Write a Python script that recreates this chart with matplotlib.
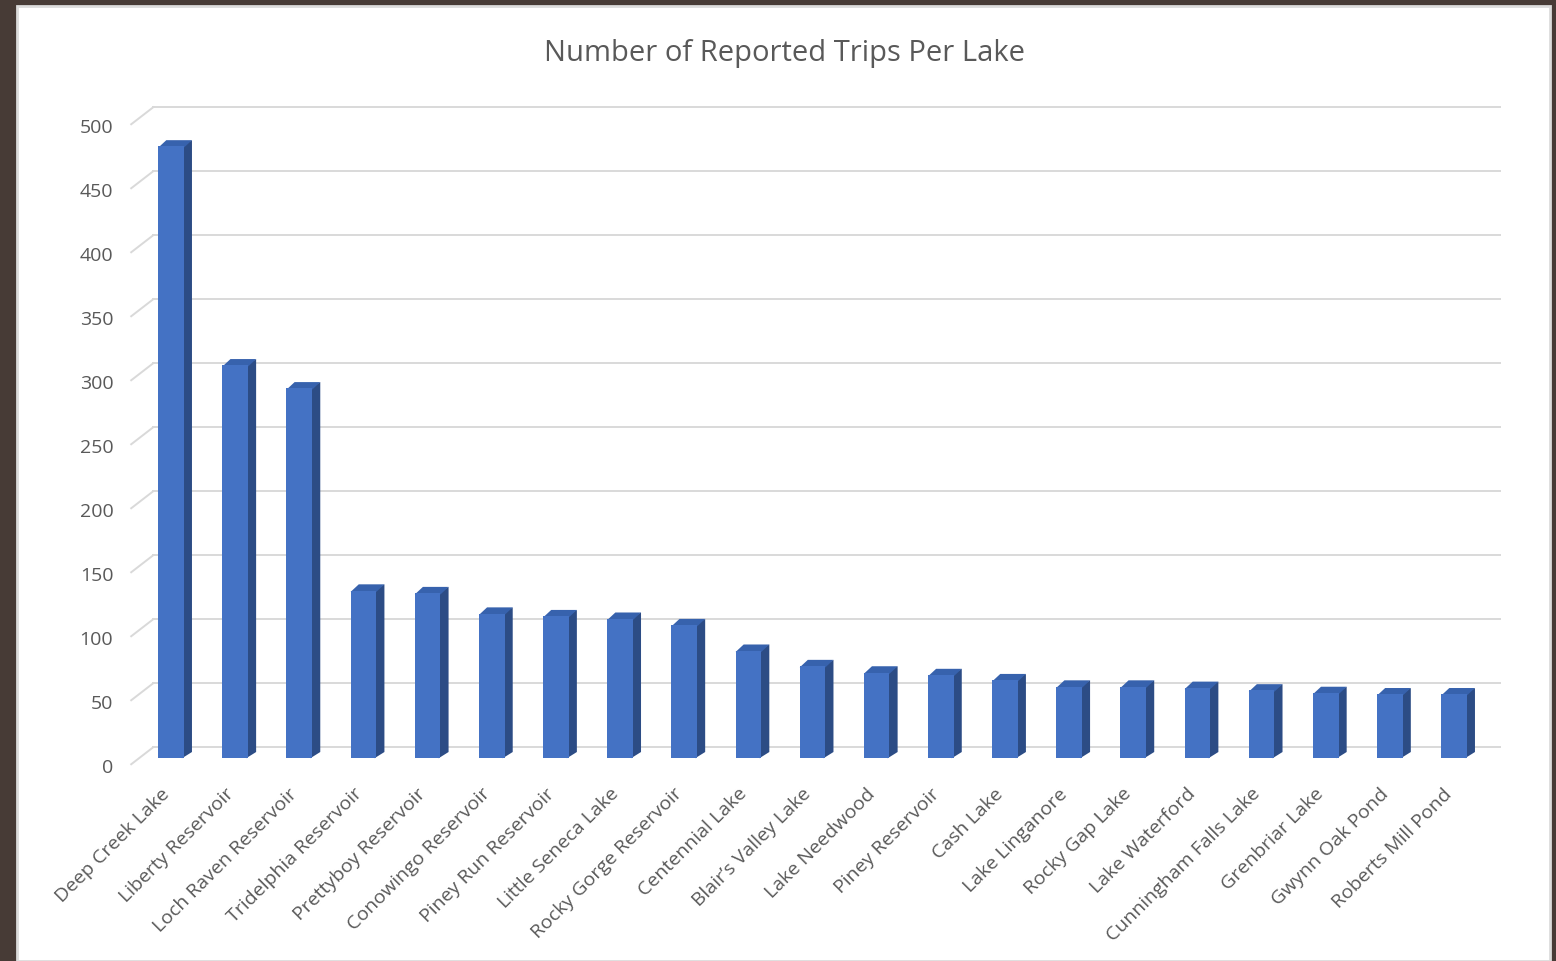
import numpy as np
import matplotlib.pyplot as plt
from matplotlib.patches import Polygon, Rectangle

lakes = [
    "Deep Creek Lake", "Liberty Reservoir", "Loch Raven Reservoir",
    "Tridelphia Reservoir", "Prettyboy Reservoir", "Conowingo Reservoir",
    "Piney Run Reservoir", "Little Seneca Lake", "Rocky Gorge Reservoir",
    "Centennial Lake", "Blair\u2019s Valley Lake", "Lake Needwood",
    "Piney Reservoir", "Cash Lake", "Lake Linganore", "Rocky Gap Lake",
    "Lake Waterford", "Cunningham Falls Lake", "Grenbriar Lake",
    "Gwynn Oak Pond", "Roberts Mill Pond",
]
trips = [478, 307, 289, 131, 129, 113, 111, 109, 104, 84, 72,
         67, 65, 61, 56, 56, 55, 53, 51, 50, 50]
y_ticks = list(range(0, 501, 50))

title = "Number of Reported Trips Per Lake"

W, H = 1556, 962
FRONT = "#4472c4"
SIDE = "#2c4c85"
TOP = "#3762ad"
GRID = "#d9d9d9"
TEXT = "#595959"
plt.rcParams["font.family"] = ["Open Sans", "DejaVu Sans"]

# pixel scale of the plot (px per category, px per trip)
px_cat, px_val = 64.15, 1.28
# oblique depth of the floor, in data units
depth = np.array([22 / px_cat, 17 / px_val])
front_edge = -0.35 * depth
back_wall = 0.65 * depth
bar_depth = 0.37 * depth
bar_w = 0.4

fig = plt.figure(figsize=(W / 100, H / 100), dpi=100, facecolor="#473b36")
fig.add_artist(Rectangle((17 / W, 0), 1533 / W, (H - 7) / H,
                         transform=fig.transFigure, facecolor="white",
                         edgecolor="#dcdcdc", lw=2, zorder=-1))

ax = fig.add_axes([100 / W, 1 - 775 / H, 1420 / W, 680 / H])
ax.set_xlim((100 - 171) / px_cat, (1520 - 171) / px_cat)
ax.set_ylim((759.3 - 775) / px_val, (759.3 - 95) / px_val)
ax.axis("off")

n = len(trips)
x0, x1 = -0.5, n - 0.5
for v in y_ticks:
    ax.plot([x0 + back_wall[0], x1 + back_wall[0]], [v + back_wall[1]] * 2,
            color=GRID, lw=1.4, zorder=1)
    ax.plot([x0 + front_edge[0], x0 + back_wall[0]],
            [v + front_edge[1], v + back_wall[1]], color=GRID, lw=1.4, zorder=1)
    ax.text(-0.9, v + front_edge[1] - 2.3, str(v), ha="right", va="center",
            fontsize=14, color=TEXT)

xs = np.arange(n)
ax.bar(xs, trips, width=bar_w, color=FRONT, linewidth=0, zorder=3)
dx, dy = bar_depth
ov = 0.03  # tuck the side/top faces under the front face
for i, v in zip(xs, trips):
    r, l = i + bar_w / 2, i - bar_w / 2
    ax.add_patch(Polygon([(r - ov, 0), (r + dx, dy), (r + dx, v + dy), (r - ov, v)],
                         closed=True, facecolor=SIDE, edgecolor="none", zorder=2))
    ax.add_patch(Polygon([(l, v - 1), (r, v - 1), (r + dx, v + dy), (l + dx, v + dy)],
                         closed=True, facecolor=TOP, edgecolor="none", zorder=2))

for i, name in enumerate(lakes):
    ax.text(i - 0.07, -25, name, rotation=45, rotation_mode="anchor",
            ha="right", va="center", fontsize=14, color=TEXT)

fig.text(784 / W, 1 - 54 / H, title, ha="center", va="center",
         fontsize=21, color=TEXT)

fig.savefig("out.png", dpi=100, facecolor=fig.get_facecolor())
